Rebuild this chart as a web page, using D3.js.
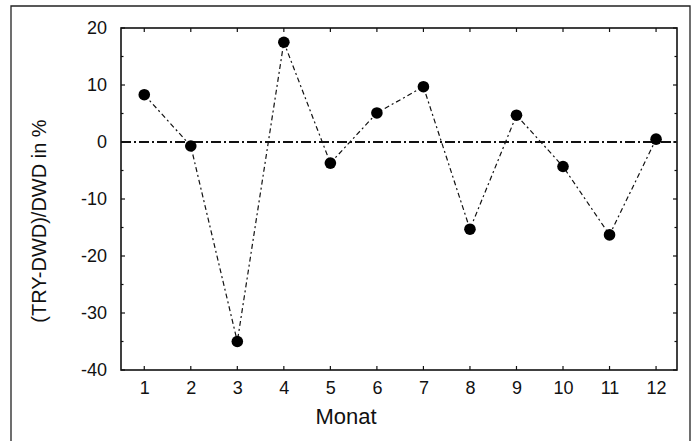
<!DOCTYPE html>
<html>
<head>
<meta charset="utf-8">
<script src="https://cdn.jsdelivr.net/npm/d3@7"></script>
<style>
    body { margin: 0; background: #fff; }
    svg { display: block; }
    text { font-family: "Liberation Sans", Arial, sans-serif; fill: #111; }
</style>
</head>
<body>
<div id="chart"></div>
<script>
// data
var months = [1, 2, 3, 4, 5, 6, 7, 8, 9, 10, 11, 12];
var values = [8.3, -0.7, -35.0, 17.5, -3.7, 5.1, 9.7, -15.3, 4.7, -4.3, -16.3, 0.5];
var yTicks = [-40, -30, -20, -10, 0, 10, 20];
var yMinor = [-35, -25, -15, -5, 5, 15];

var W = 692, H = 441;
var margin = {top: 28, right: 15, bottom: 71, left: 121};
var width = W - margin.left - margin.right,
    height = H - margin.top - margin.bottom;

var svg = d3.select("#chart").append("svg")
    .attr("width", W)
    .attr("height", H);

// outer frame of the figure
svg.append("path")
    .attr("d", "M11," + H + "V6H690V" + H)
    .attr("fill", "none")
    .attr("stroke", "#222")
    .attr("stroke-width", 1.3);

var g = svg.append("g")
    .attr("transform", "translate(" + margin.left + "," + margin.top + ")");

var x = d3.scaleLinear().domain([0.5, 12.45]).range([0, width]);
var y = d3.scaleLinear().domain([-40, 20]).range([height, 0]);

// plain hyphen for negatives, like the original
var fmt = function (d) { return String(d); };

var xAxis = g.append("g")
    .attr("transform", "translate(0," + height + ")")
    .call(d3.axisBottom(x).tickValues(months).tickSize(0).tickPadding(11).tickFormat(fmt));
xAxis.select(".domain").remove();
xAxis.selectAll("text").style("font-size", "18px").attr("dy", "0.71em");

var yAxis = g.append("g")
    .call(d3.axisLeft(y).tickValues(yTicks).tickSize(0).tickPadding(14).tickFormat(fmt));
yAxis.select(".domain").remove();
yAxis.selectAll("text").style("font-size", "18px");

// inward ticks on all four sides
var tk = 4;
g.selectAll(".tb").data(months).enter().append("line")
    .attr("x1", d => x(d)).attr("x2", d => x(d))
    .attr("y1", height).attr("y2", height - tk)
    .attr("stroke", "#111").attr("stroke-width", 1.2);
g.selectAll(".tt").data(months).enter().append("line")
    .attr("x1", d => x(d)).attr("x2", d => x(d))
    .attr("y1", 0).attr("y2", tk)
    .attr("stroke", "#111").attr("stroke-width", 1.2);
var allY = yTicks.concat(yMinor);
g.selectAll(".tl").data(allY).enter().append("line")
    .attr("x1", 0).attr("x2", d => yMinor.indexOf(d) >= 0 ? 2.5 : tk)
    .attr("y1", d => y(d)).attr("y2", d => y(d))
    .attr("stroke", "#111").attr("stroke-width", 1.2);
g.selectAll(".tr").data(allY).enter().append("line")
    .attr("x1", width).attr("x2", d => width - (yMinor.indexOf(d) >= 0 ? 2.5 : tk))
    .attr("y1", d => y(d)).attr("y2", d => y(d))
    .attr("stroke", "#111").attr("stroke-width", 1.2);

// plot box
g.append("rect")
    .attr("width", width)
    .attr("height", height)
    .attr("fill", "none")
    .attr("stroke", "#111")
    .attr("stroke-width", 1.6);

// zero line
g.append("line")
    .attr("x1", 0).attr("x2", width)
    .attr("y1", y(0)).attr("y2", y(0))
    .attr("stroke", "#111")
    .attr("stroke-width", 1.8)
    .attr("stroke-dasharray", "10,3,2,3");

// series line
var line = d3.line()
    .x(function (d, i) { return x(months[i]); })
    .y(function (d) { return y(d); });

g.append("path")
    .datum(values)
    .attr("d", line)
    .attr("fill", "none")
    .attr("stroke", "#111")
    .attr("stroke-width", 1.2)
    .attr("stroke-dasharray", "5,3,2,3");

g.selectAll(".pt").data(values).enter().append("circle")
    .attr("class", "pt")
    .attr("cx", function (d, i) { return x(months[i]); })
    .attr("cy", function (d) { return y(d); })
    .attr("r", 5.8)
    .attr("fill", "#000");

// axis titles
svg.append("text")
    .attr("x", 346)
    .attr("y", 424)
    .attr("text-anchor", "middle")
    .style("font-size", "22px")
    .text("Monat");

svg.append("text")
    .attr("transform", "translate(46,221) rotate(-90)")
    .attr("text-anchor", "middle")
    .style("font-size", "20px")
    .text("(TRY-DWD)/DWD in %");
</script>
</body>
</html>
